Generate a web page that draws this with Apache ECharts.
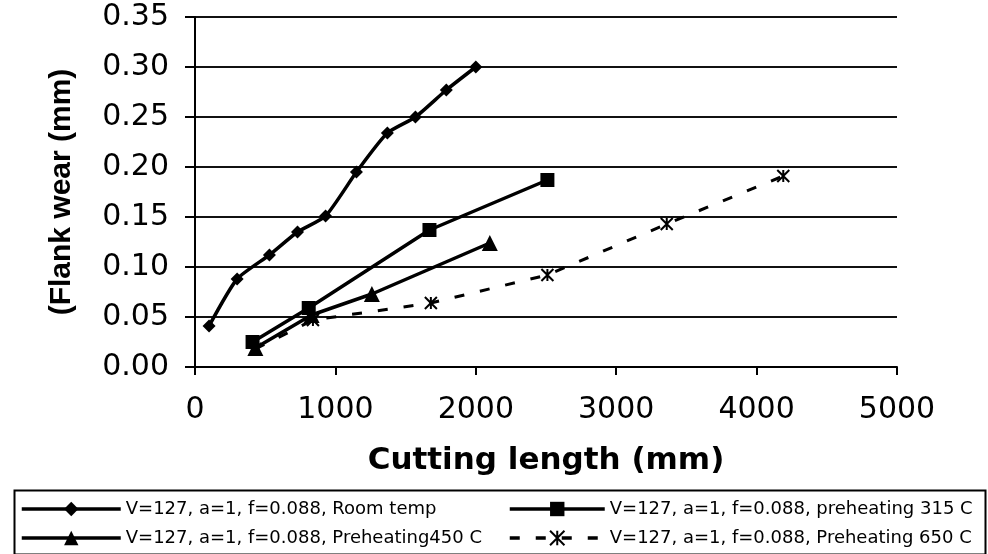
<!DOCTYPE html>
<html>
<head>
<meta charset="utf-8">
<script src="https://cdn.jsdelivr.net/npm/echarts@6/dist/echarts.min.js"></script>
<style>
html,body{margin:0;padding:0;background:#fff;}
#chart{width:988px;height:554px;}
</style>
</head>
<body>
<div id="chart"></div>
<script>
// Data
var xTickLabels = ['0', '1000', '2000', '3000', '4000', '5000'];
var yTickLabels = ['0.00', '0.05', '0.10', '0.15', '0.20', '0.25', '0.30', '0.35'];

var seriesNames = [
  'V=127, a=1, f=0.088, Room temp',
  'V=127, a=1, f=0.088, Preheating450 C',
  'V=127, a=1, f=0.088, preheating 315 C',
  'V=127, a=1, f=0.088, Preheating 650 C'
];

var roomX = [100, 300, 530, 730, 930, 1150, 1370, 1570, 1790, 2000];
var roomY = [0.041, 0.088, 0.112, 0.135, 0.151, 0.195, 0.234, 0.250, 0.277, 0.300];

var p315X = [410, 810, 1670, 2510];
var p315Y = [0.025, 0.059, 0.137, 0.187];

var p450X = [430, 830, 1260, 2100];
var p450Y = [0.019, 0.052, 0.073, 0.124];

var p650X = [430, 840, 1680, 2510, 3360, 4190];
var p650Y = [0.018, 0.047, 0.064, 0.092, 0.143, 0.191];

function pairs(xs, ys) {
  return xs.map(function (x, i) { return [x, ys[i]]; });
}

var chart = echarts.init(document.getElementById('chart'), null, {renderer: 'canvas'});

var starPath = 'path://M0,0 L10,10 M10,0 L0,10 M5,0 L5,10';

var legendText = {fontFamily: 'DejaVu Sans', fontSize: 18, color: '#000', lineHeight: 20};

var option = {
  animation: false,
  backgroundColor: '#fff',
  grid: {left: 195, right: 91, top: 17, bottom: 187, containLabel: false},
  xAxis: {
    type: 'value',
    min: 0, max: 5000, interval: 1000,
    name: 'Cutting length (mm)',
    nameLocation: 'middle',
    nameGap: 78,
    nameTextStyle: {fontFamily: 'DejaVu Sans', fontWeight: 'bold', fontSize: 31, color: '#000'},
    axisLine: {show: true, lineStyle: {color: '#000', width: 2}},
    axisTick: {show: true, length: 8, lineStyle: {color: '#000', width: 2}},
    axisLabel: {
      fontFamily: 'DejaVu Sans', fontSize: 30, color: '#000', margin: 28,
      formatter: function (v) { return xTickLabels[Math.round(v / 1000)]; }
    },
    splitLine: {show: false}
  },
  yAxis: {
    type: 'value',
    min: 0, max: 0.35, interval: 0.05,
    name: '(Flank wear (mm)',
    nameLocation: 'middle',
    nameGap: 118,
    nameTextStyle: {fontFamily: 'Liberation Sans', fontWeight: 'bold', fontSize: 30, color: '#000'},
    axisLine: {show: true, lineStyle: {color: '#000', width: 2}},
    axisTick: {show: true, length: 10, lineStyle: {color: '#000', width: 2}},
    axisLabel: {
      fontFamily: 'DejaVu Sans', fontSize: 30, color: '#000', margin: 26,
      formatter: function (v) { return yTickLabels[Math.round(v / 0.05)]; }
    },
    splitLine: {show: true, lineStyle: {color: '#111', width: 2}}
  },
  legend: [
    {
      left: 20, top: 499, orient: 'vertical', padding: 0, height: 55,
      itemWidth: 99, itemHeight: 18, itemGap: 9,
      selectedMode: false,
      lineStyle: {width: 3.5},
      textStyle: legendText,
      data: [seriesNames[0], seriesNames[1]]
    },
    {
      left: 508, top: 499, orient: 'vertical', padding: 0, height: 55,
      itemWidth: 95, itemHeight: 18, itemGap: 9,
      selectedMode: false,
      lineStyle: {width: 3.5},
      textStyle: legendText,
      data: [seriesNames[2], seriesNames[3]]
    }
  ],
  graphic: [{
    type: 'rect', left: 12, top: 488, silent: true,
    shape: {width: 971, height: 64},
    style: {fill: 'none', stroke: '#000', lineWidth: 2}
  }],
  series: [
    {
      name: seriesNames[0], type: 'line', smooth: 0.2,
      data: pairs(roomX, roomY),
      symbol: 'diamond', symbolSize: 13,
      lineStyle: {color: '#000', width: 3.5},
      itemStyle: {color: '#000'}
    },
    {
      name: seriesNames[1], type: 'line',
      data: pairs(p450X, p450Y),
      symbol: 'triangle', symbolSize: 16,
      lineStyle: {color: '#000', width: 3.5},
      itemStyle: {color: '#000'}
    },
    {
      name: seriesNames[2], type: 'line',
      data: pairs(p315X, p315Y),
      symbol: 'rect', symbolSize: 14,
      lineStyle: {color: '#000', width: 3.5},
      itemStyle: {color: '#000'}
    },
    {
      name: seriesNames[3], type: 'line',
      data: pairs(p650X, p650Y),
      symbol: starPath, symbolSize: 12,
      lineStyle: {color: '#000', width: 3, type: [10, 16]},
      itemStyle: {color: '#000', borderColor: '#000', borderWidth: 2}
    }
  ]
};

chart.setOption(option);
</script>
</body>
</html>
